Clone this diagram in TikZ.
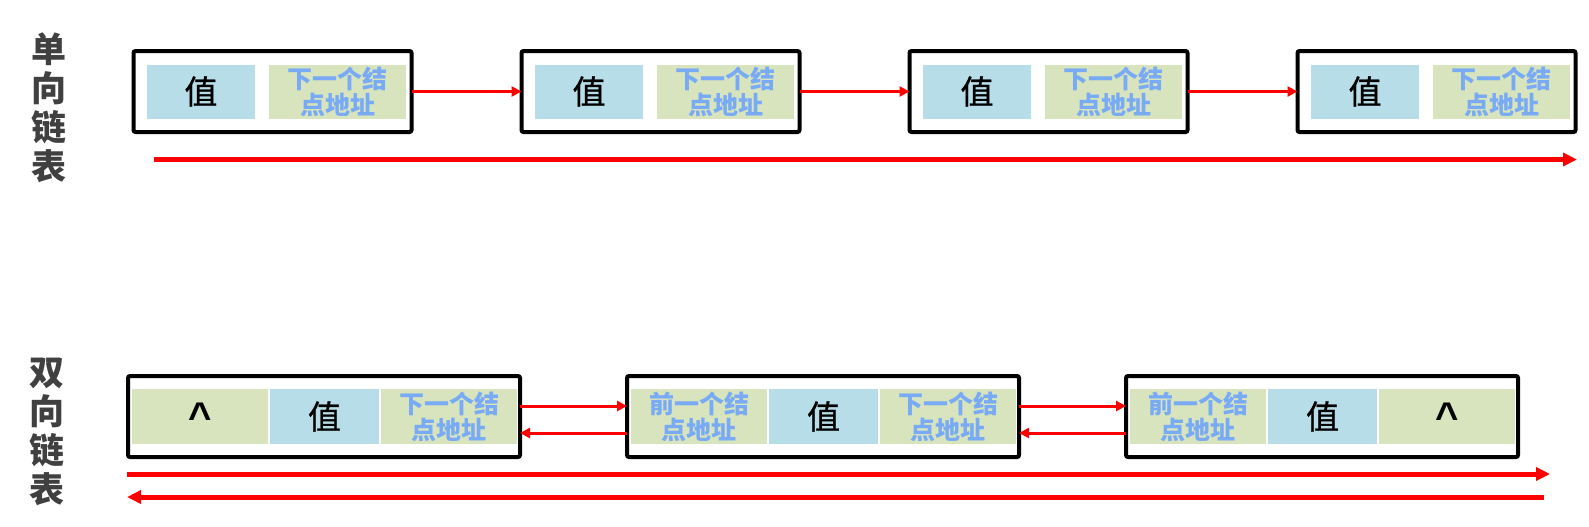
\documentclass[tikz,border=0pt]{standalone}
\usepackage{fontspec}
\usepackage{xcolor}
\usepackage{tikz}
\usetikzlibrary{positioning, arrows.meta}
\newfontfamily\cjk{Noto Sans CJK SC}
\newfontfamily\cjkvalue{Noto Sans CJK SC}[FakeBold=0.8]
\newfontfamily\caretfont{Liberation Sans}
\definecolor{cellblue}{RGB}{183, 221, 232}
\definecolor{cellgreen}{RGB}{215, 228, 189}
\definecolor{addrblue}{RGB}{120, 170, 245}
\definecolor{labelgray}{RGB}{64, 64, 64}

\begin{document}
\begin{tikzpicture}[x=0.5pt, y=-0.5pt,
    listbox/.style={rectangle, draw=black, line width=2pt, rounded corners=1pt, inner sep=0pt, outer sep=0pt},
    sbox/.style={listbox, minimum width=139pt, minimum height=40.5pt},
    dbox/.style={listbox, minimum width=196pt, minimum height=40.5pt},
    cell/.style={rectangle, inner sep=0pt, outer sep=0pt, align=center},
    valcell/.style={cell, fill=cellblue, font=\cjkvalue\fontsize{16.5}{16.5}\selectfont},
    addrcell/.style={cell, fill=cellgreen, text=addrblue, font=\cjk\bfseries\fontsize{12.5}{13}\selectfont},
    nullcell/.style={cell, fill=cellgreen, font=\caretfont\bfseries\fontsize{20}{20}\selectfont},
    listlabel/.style={align=center, text=labelgray, font=\cjk\bfseries\fontsize{17.5}{19.5}\selectfont},
    link/.style={draw=red, line width=1.5pt, -{Triangle[length=5pt, width=5pt]}},
    flow/.style={draw=red, line width=2.5pt, -{Triangle[length=7pt, width=6.5pt]}}]

    \useasboundingbox (0,0) rectangle (1589,526);

    % Singly linked list
    \node[listlabel] (slabel) at (49,108) {单\\向\\链\\表};

    \node[sbox] (s1) at (272.5,91.5) {};
    \node[sbox, right=55pt of s1] (s2) {};
    \node[sbox, right=55pt of s2] (s3) {};
    \node[sbox, right=55pt of s3] (s4) {};

    \node[valcell, minimum width=54pt, minimum height=27pt] (s1v) at ([xshift=-35.75pt]s1.center) {值};
    \node[addrcell, minimum width=68.5pt, minimum height=27pt, right=7pt of s1v] (s1n) {下一个结\\点地址};
    \node[valcell, minimum width=54pt, minimum height=27pt] (s2v) at ([xshift=-35.75pt]s2.center) {值};
    \node[addrcell, minimum width=68.5pt, minimum height=27pt, right=7pt of s2v] (s2n) {下一个结\\点地址};
    \node[valcell, minimum width=54pt, minimum height=27pt] (s3v) at ([xshift=-35.75pt]s3.center) {值};
    \node[addrcell, minimum width=68.5pt, minimum height=27pt, right=7pt of s3v] (s3n) {下一个结\\点地址};
    \node[valcell, minimum width=54pt, minimum height=27pt] (s4v) at ([xshift=-35.75pt]s4.center) {值};
    \node[addrcell, minimum width=68.5pt, minimum height=27pt, right=7pt of s4v] (s4n) {下一个结\\点地址};

    \draw[link] (s1) -- (s2);
    \draw[link] (s2) -- (s3);
    \draw[link] (s3) -- (s4);

    \coordinate (s_from) at (154,159.5);
    \coordinate (s_to) at (1577,159.5);
    \draw[flow] (s_from) -- (s_to);

    % Doubly linked list
    \node[listlabel] (dlabel) at (47,432) {双\\向\\链\\表};

    \node[dbox] (d1) at (324,416.5) {};
    \node[dbox, right=53.5pt of d1] (d2) {};
    \node[dbox, right=53.5pt of d2] (d3) {};

    \node[valcell, minimum width=54.5pt, minimum height=27.5pt] (d1v) at ([xshift=0.25pt]d1.center) {值};
    \node[nullcell, minimum width=68pt, minimum height=27.5pt, left=1pt of d1v] (d1p) {\^{}};
    \node[addrcell, minimum width=68pt, minimum height=27.5pt, right=1pt of d1v] (d1n) {下一个结\\点地址};
    \node[valcell, minimum width=54.5pt, minimum height=27.5pt] (d2v) at ([xshift=0.25pt]d2.center) {值};
    \node[addrcell, minimum width=68pt, minimum height=27.5pt, left=1pt of d2v] (d2p) {前一个结\\点地址};
    \node[addrcell, minimum width=68pt, minimum height=27.5pt, right=1pt of d2v] (d2n) {下一个结\\点地址};
    \node[valcell, minimum width=54.5pt, minimum height=27.5pt] (d3v) at ([xshift=0.25pt]d3.center) {值};
    \node[addrcell, minimum width=68pt, minimum height=27.5pt, left=1pt of d3v] (d3p) {前一个结\\点地址};
    \node[nullcell, minimum width=68pt, minimum height=27.5pt, right=1pt of d3v] (d3n) {\^{}};

    \draw[link] ([yshift=5.25pt]d1.east) -- ([yshift=5.25pt]d2.west);
    \draw[link] ([yshift=-8.25pt]d2.west) -- ([yshift=-8.25pt]d1.east);
    \draw[link] ([yshift=5.25pt]d2.east) -- ([yshift=5.25pt]d3.west);
    \draw[link] ([yshift=-8.25pt]d3.west) -- ([yshift=-8.25pt]d2.east);

    \coordinate (d_from) at (127,474);
    \coordinate (d_to) at (1550,474);
    \coordinate (d_back) at (1544,497);
    \coordinate (d_home) at (127,497);
    \draw[flow] (d_from) -- (d_to);
    \draw[flow] (d_back) -- (d_home);
\end{tikzpicture}
\end{document}
